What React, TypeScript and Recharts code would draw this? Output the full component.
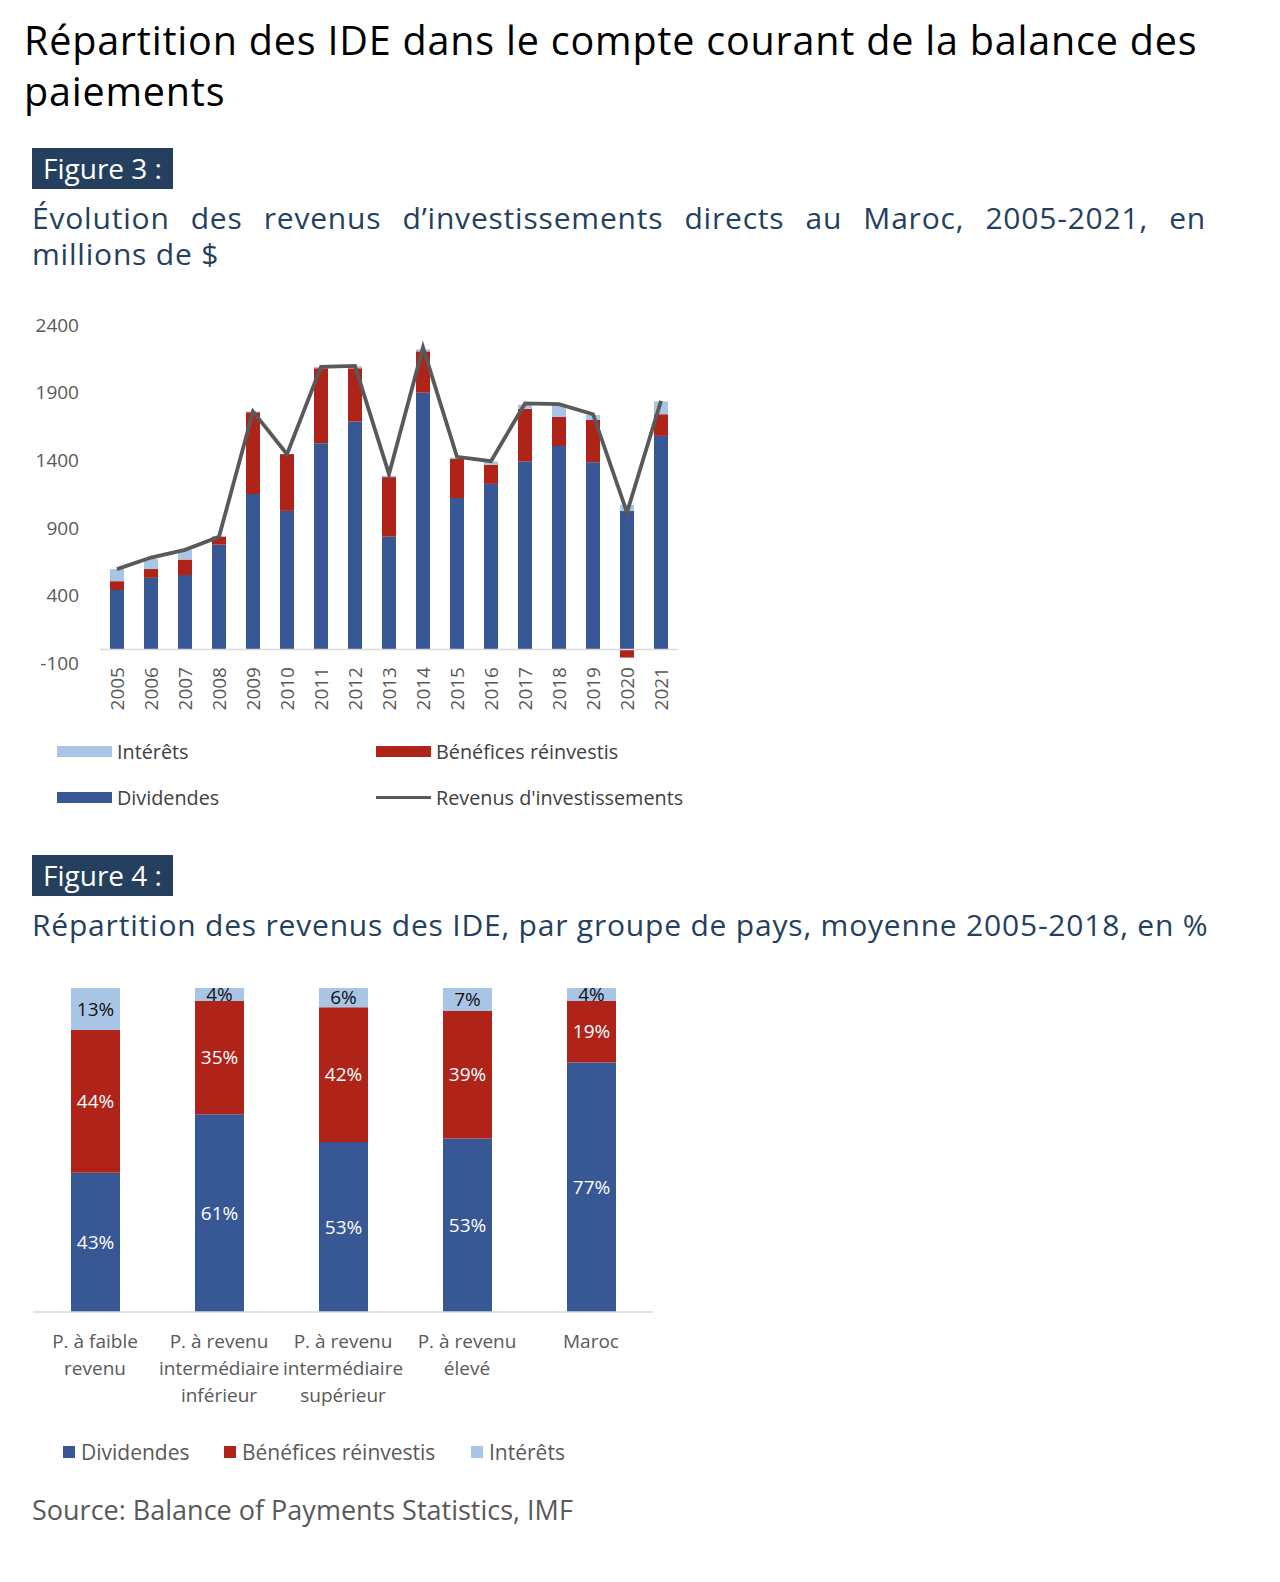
import {
  Bar,
  BarChart,
  ComposedChart,
  LabelList,
  Line,
  ReferenceLine,
  XAxis,
  YAxis,
} from "recharts";

// Figure 3 — revenus d'investissements directs, millions de $
const years = [
  "2005", "2006", "2007", "2008", "2009", "2010", "2011", "2012", "2013",
  "2014", "2015", "2016", "2017", "2018", "2019", "2020", "2021",
];
const dividendes = [440, 530, 550, 775, 1150, 1025, 1525, 1685, 835, 1900, 1120, 1225, 1390, 1505, 1385, 1025, 1580];
const benefices = [65, 65, 115, 60, 605, 420, 555, 395, 440, 305, 290, 140, 390, 215, 315, -60, 160];
const interets = [90, 75, 70, 5, 5, 0, 10, 15, 10, 15, 10, 25, 30, 90, 35, 45, 95];
const revenus = [594, 680, 737, 833, 1760, 1445, 2091, 2098, 1297, 2234, 1425, 1393, 1820, 1815, 1740, 1013, 1839];
const yTicks = [-100, 400, 900, 1400, 1900, 2400];

// Figure 4 — répartition par groupe de pays, en %
const groupes = [
  "P. à faible\nrevenu",
  "P. à revenu\nintermédiaire\ninférieur",
  "P. à revenu\nintermédiaire\nsupérieur",
  "P. à revenu\nélevé",
  "Maroc",
];
const divPct = [43, 61, 53, 53, 77];
const benPct = [44, 35, 42, 39, 19];
const intPct = [13, 4, 6, 7, 4];

const BLUE = "#385795";
const RED = "#b02318";
const LIGHT = "#a9c5e6";
const GREY_LINE = "#595959";
const NAVY = "#253f5e";
const AXIS_FONT = "'Open Sans', sans-serif";
const TEXT_FONT = "'Open Sans', sans-serif";

const fig3Data = years.map((y, i) => ({
  year: y,
  div: dividendes[i],
  ben: benefices[i],
  int: interets[i],
  rev: revenus[i],
}));

const fig4Data = groupes.map((g, i) => ({
  groupe: g,
  div: divPct[i],
  ben: benPct[i],
  int: intPct[i],
}));

function YearTick({ x, y, payload }: any) {
  return (
    <text
      x={x}
      y={y - 4}
      transform={`rotate(-90, ${x}, ${y - 4})`}
      textAnchor="end"
      dominantBaseline="central"
      fill="#595959"
      fontSize={19}
      fontFamily={AXIS_FONT}
    >
      {payload.value}
    </text>
  );
}

function GroupTick({ x, y, payload }: any) {
  const lines = String(payload.value).split("\n");
  return (
    <g>
      {lines.map((l, i) => (
        <text
          key={i}
          x={x}
          y={y + 21 + i * 27}
          textAnchor="middle"
          dominantBaseline="central"
          fill="#595959"
          fontSize={19}
          fontFamily={AXIS_FONT}
        >
          {l}
        </text>
      ))}
    </g>
  );
}

const pct = (v: any) => `${v}%`;

function Badge({ top, label }: { top: number; label: string }) {
  return (
    <div
      style={{
        position: "absolute",
        left: 32,
        top,
        width: 141,
        height: 41,
        background: NAVY,
        color: "#fff",
        fontFamily: TEXT_FONT,
        fontWeight: 500,
        fontSize: 28,
        lineHeight: "41px",
        textAlign: "center",
      }}
    >
      {label}
    </div>
  );
}

function Legend3() {
  const items = [
    { name: "Intérêts", color: LIGHT, x: 57, y: 751, kind: "rect" },
    { name: "Bénéfices réinvestis", color: RED, x: 376, y: 751, kind: "rect" },
    { name: "Dividendes", color: BLUE, x: 57, y: 797, kind: "rect" },
    { name: "Revenus d'investissements", color: GREY_LINE, x: 376, y: 797, kind: "line" },
  ];
  return (
    <>
      {items.map((it) => (
        <div
          key={it.name}
          style={{
            position: "absolute",
            left: it.x,
            top: it.y - 14,
            height: 28,
            display: "flex",
            alignItems: "center",
            fontFamily: AXIS_FONT,
            fontSize: 19.8,
            color: "#404040",
            whiteSpace: "nowrap",
          }}
        >
          <span
            style={{
              display: "inline-block",
              width: 55,
              height: it.kind === "rect" ? 11 : 3,
              background: it.color,
              marginRight: 5,
            }}
          />
          {it.name}
        </div>
      ))}
    </>
  );
}

function Legend4() {
  const items = [
    { name: "Dividendes", color: BLUE, x: 63 },
    { name: "Bénéfices réinvestis", color: RED, x: 224 },
    { name: "Intérêts", color: LIGHT, x: 471 },
  ];
  return (
    <>
      {items.map((it) => (
        <div
          key={it.name}
          style={{
            position: "absolute",
            left: it.x,
            top: 1452 - 14,
            height: 28,
            display: "flex",
            alignItems: "center",
            fontFamily: AXIS_FONT,
            fontSize: 21,
            color: "#595959",
            whiteSpace: "nowrap",
          }}
        >
          <span
            style={{
              display: "inline-block",
              width: 12,
              height: 12,
              background: it.color,
              marginRight: 6,
            }}
          />
          {it.name}
        </div>
      ))}
    </>
  );
}

const subStyle = {
  position: "absolute" as const,
  left: 32,
  width: 1174,
  fontFamily: TEXT_FONT,
  fontSize: 30,
  letterSpacing: 0.8,
  lineHeight: "30px",
  color: NAVY,
  whiteSpace: "nowrap" as const,
};

export default function App() {
  return (
    <div
      style={{
        position: "absolute",
        left: 0,
        top: 0,
        width: 1280,
        height: 1582,
        background: "#fff",
        overflow: "hidden",
      }}
    >
      <div
        style={{
          position: "absolute",
          left: 24,
          top: 15,
          fontFamily: TEXT_FONT,
          fontWeight: 500,
          fontSize: 39.5,
          letterSpacing: 0.8,
          lineHeight: "51px",
          color: "#000",
          whiteSpace: "nowrap",
        }}
      >
        <div>Répartition des IDE dans le compte courant de la balance des</div>
        <div>paiements</div>
      </div>

      <Badge top={148} label="Figure 3 :" />
      <div style={{ ...subStyle, top: 203, textAlign: "justify", textAlignLast: "justify" }}>
        Évolution des revenus d’investissements directs au Maroc, 2005-2021, en
      </div>
      <div style={{ ...subStyle, top: 239 }}>millions de $</div>

      <div style={{ position: "absolute", left: 0, top: 300 }}>
        <ComposedChart
          width={700}
          height={430}
          data={fig3Data}
          stackOffset="sign"
          margin={{ top: 25, right: 22, bottom: 0, left: 0 }}
        >
          <XAxis
            dataKey="year"
            axisLine={false}
            tickLine={false}
            interval={0}
            height={67}
            tick={<YearTick />}
          />
          <YAxis
            width={100}
            domain={[-100, 2400]}
            ticks={yTicks}
            axisLine={false}
            tickLine={false}
            tickMargin={15}
            tick={{ fill: "#595959", fontSize: 19, fontFamily: AXIS_FONT }}
          />
          <Bar dataKey="div" stackId="a" fill={BLUE} barSize={14} isAnimationActive={false} />
          <Bar dataKey="ben" stackId="a" fill={RED} barSize={14} isAnimationActive={false} />
          <Bar dataKey="int" stackId="a" fill={LIGHT} barSize={14} isAnimationActive={false} />
          <ReferenceLine y={0} stroke="#d9d9d9" strokeWidth={1.5} />
          <Line
            dataKey="rev"
            type="linear"
            stroke={GREY_LINE}
            strokeWidth={3.8}
            dot={false}
            isAnimationActive={false}
          />
        </ComposedChart>
      </div>
      <Legend3 />

      <Badge top={855} label="Figure 4 :" />
      <div style={{ ...subStyle, top: 910, textAlign: "justify", textAlignLast: "justify" }}>
        Répartition des revenus des IDE, par groupe de pays, moyenne 2005-2018, en %
      </div>

      <div style={{ position: "absolute", left: 0, top: 960 }}>
        <BarChart
          width={670}
          height={452}
          data={fig4Data}
          stackOffset="expand"
          margin={{ top: 28, right: 17, bottom: 0, left: 33 }}
        >
          <XAxis
            dataKey="groupe"
            axisLine={{ stroke: "#d9d9d9", strokeWidth: 1.5 }}
            tickLine={false}
            interval={0}
            height={100}
            tick={<GroupTick />}
          />
          <YAxis hide domain={[0, 1]} />
          <Bar dataKey="div" stackId="p" fill={BLUE} barSize={49} isAnimationActive={false}>
            <LabelList dataKey="div" position="center" formatter={pct} fill="#fff" fontSize={19} fontFamily={AXIS_FONT} />
          </Bar>
          <Bar dataKey="ben" stackId="p" fill={RED} barSize={49} isAnimationActive={false}>
            <LabelList dataKey="ben" position="center" formatter={pct} fill="#fff" fontSize={19} fontFamily={AXIS_FONT} />
          </Bar>
          <Bar dataKey="int" stackId="p" fill={LIGHT} barSize={49} isAnimationActive={false}>
            <LabelList dataKey="int" position="center" formatter={pct} fill="#111" fontSize={19} fontFamily={AXIS_FONT} />
          </Bar>
        </BarChart>
      </div>
      <Legend4 />

      <div
        style={{
          position: "absolute",
          left: 32,
          top: 1510 - 18,
          fontFamily: TEXT_FONT,
          fontSize: 27,
          lineHeight: "36px",
          color: "#595959",
          whiteSpace: "nowrap",
        }}
      >
        Source: Balance of Payments Statistics, IMF
      </div>
    </div>
  );
}
